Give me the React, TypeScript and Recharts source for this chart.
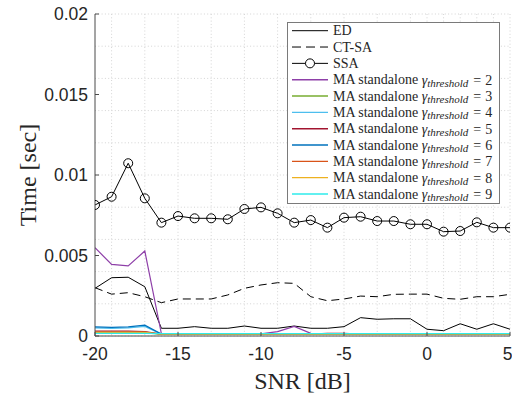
import React from "react";
import { LineChart, Line, XAxis, YAxis, CartesianGrid } from "recharts";

// SNR sweep in dB
const snr = [-20, -19, -18, -17, -16, -15, -14, -13, -12, -11, -10, -9, -8, -7, -6, -5, -4, -3, -2, -1, 0, 1, 2, 3, 4, 5];

// Execution time in seconds
const ed = [0.00296, 0.00362, 0.00365, 0.00306, 0.00048, 0.00048, 0.00058, 0.00048, 0.00048, 0.00062, 0.00048, 0.00048, 0.00062, 0.00048, 0.00048, 0.00058, 0.00114, 0.00104, 0.00107, 0.00107, 0.00042, 0.00033, 0.00076, 0.00042, 0.00076, 0.00042];
const ctsa = [0.003, 0.0026, 0.00269, 0.00244, 0.00207, 0.0023, 0.0023, 0.0023, 0.00255, 0.00296, 0.00317, 0.00331, 0.00327, 0.00244, 0.00219, 0.0023, 0.00248, 0.00244, 0.00259, 0.0026, 0.0026, 0.00234, 0.00228, 0.00244, 0.00244, 0.00259];
const ssa = [0.00814, 0.00865, 0.01073, 0.00855, 0.00704, 0.00745, 0.00731, 0.00731, 0.00725, 0.00789, 0.00799, 0.00762, 0.00704, 0.0072, 0.00673, 0.00735, 0.00741, 0.00714, 0.00714, 0.00694, 0.00694, 0.00648, 0.00652, 0.00706, 0.00673, 0.00673];
const ma2 = [0.00548, 0.00445, 0.00435, 0.00528, 0.00014, 0.00013, 0.00013, 0.00014, 0.00013, 0.00013, 0.00013, 0.00027, 0.0006, 0.00016, 0.00013, 0.00013, 0.00012, 0.00012, 0.00012, 0.00012, 0.00012, 0.00012, 0.00012, 0.00012, 0.00012, 0.00012];
const ma3 = [0.0002, 0.0002, 0.0002, 0.0002, 0.00011, 0.00011, 0.00011, 0.00012, 0.00011, 0.00011, 0.00011, 0.00011, 0.00011, 0.00011, 0.00011, 0.00011, 0.00011, 0.00011, 0.00011, 0.00011, 0.00011, 0.00011, 0.00011, 0.00011, 0.00011, 0.00011];
const ma4 = [0.0005, 0.00047, 0.0005, 0.0006, 0.00012, 0.00012, 0.00012, 0.00012, 0.00012, 0.00012, 0.00012, 0.00012, 0.00012, 0.00012, 0.00012, 0.00012, 0.00012, 0.00012, 0.00012, 0.00012, 0.00012, 0.00012, 0.00012, 0.00012, 0.00012, 0.00012];
const ma5 = [0.0003, 0.0003, 0.0003, 0.00028, 0.00012, 0.00012, 0.00012, 0.00012, 0.00012, 0.00012, 0.00012, 0.00012, 0.00012, 0.00012, 0.00016, 0.00016, 0.00012, 0.00012, 0.00012, 0.00012, 0.00012, 0.00012, 0.00012, 0.00012, 0.00012, 0.00012];
const ma6 = [0.00057, 0.00054, 0.00057, 0.00067, 0.00012, 0.00012, 0.00012, 0.00012, 0.00012, 0.00012, 0.00012, 0.00012, 0.00012, 0.00012, 0.00012, 0.00012, 0.00014, 0.00012, 0.00012, 0.00012, 0.00012, 0.00012, 0.00012, 0.00012, 0.00012, 0.00012];
const ma7 = [0.00025, 0.00025, 0.00025, 0.00024, 0.00011, 0.00011, 0.00011, 0.00011, 0.00011, 0.00011, 0.00011, 0.00011, 0.00011, 0.00011, 0.00011, 0.00011, 0.00011, 0.00011, 0.00011, 0.00011, 0.00011, 0.00011, 0.00011, 0.00011, 0.00011, 0.00011];
const ma8 = [0.00022, 0.00022, 0.00022, 0.00022, 0.00012, 0.00012, 0.00012, 0.00012, 0.00012, 0.00012, 0.00012, 0.00012, 0.00012, 0.00012, 0.00012, 0.00012, 0.00012, 0.00012, 0.00012, 0.00012, 0.00012, 0.00012, 0.00012, 0.00012, 0.00012, 0.00012];
const ma9 = [0.00016, 0.00016, 0.00016, 0.00016, 0.00015, 0.00015, 0.00015, 0.00015, 0.00015, 0.00015, 0.00015, 0.00015, 0.00015, 0.00015, 0.00015, 0.00015, 0.00015, 0.00015, 0.00015, 0.00015, 0.00015, 0.00015, 0.00015, 0.00015, 0.00015, 0.00015];

const xTicks = [-20, -15, -10, -5, 0, 5];
const yTicks = [0, 0.005, 0.01, 0.015, 0.02];
// minor grid: every dB / every millisecond
const yGrid = [0, 0.001, 0.002, 0.003, 0.004, 0.005, 0.006, 0.007, 0.008, 0.009, 0.01, 0.011, 0.012, 0.013, 0.014, 0.015, 0.016, 0.017, 0.018, 0.019, 0.02];

const maSeries = [
  { key: "ma2", gamma: 2, color: "#8E3FA8", values: ma2 },
  { key: "ma3", gamma: 3, color: "#77AC30", values: ma3 },
  { key: "ma4", gamma: 4, color: "#4DBEEE", values: ma4 },
  { key: "ma5", gamma: 5, color: "#A2142F", values: ma5 },
  { key: "ma6", gamma: 6, color: "#0072BD", values: ma6 },
  { key: "ma7", gamma: 7, color: "#D95319", values: ma7 },
  { key: "ma8", gamma: 8, color: "#EDB120", values: ma8 },
  { key: "ma9", gamma: 9, color: "#2EEBEB", values: ma9 },
];

const rows = snr.map((s, i) => {
  const r: Record<string, number> = { snr: s, ed: ed[i], ctsa: ctsa[i], ssa: ssa[i] };
  maSeries.forEach((m) => (r[m.key] = m.values[i]));
  return r;
});

const AXIS = "#4a4a4a";
const TICK_FONT = { fontFamily: "'Liberation Sans', Arial, sans-serif", fontSize: 17.5, fill: "#262626" };
const SERIF = "'Liberation Serif', 'Times New Roman', serif";
const TITLE_STYLE = { fontFamily: SERIF, fontSize: 24, fontWeight: 400 } as const;

// legend drawn as its own box in the upper right of the plot
function LegendBox() {
  const y0 = 8.7;
  const dy = 16.33;
  const fs = 14;
  const txt = { fontFamily: SERIF, fontSize: fs, fill: "#262626" };
  return (
    <svg width={213} height={182} style={{ display: "block" }}>
      <rect x={0.5} y={0.5} width={212} height={181} fill="#fff" stroke="#7a7a7a" />
      <line x1={5} x2={41} y1={y0} y2={y0} stroke="#000" />
      <text x={46} y={y0} dominantBaseline="central" {...txt}>ED</text>

      <line x1={5} x2={41} y1={y0 + dy} y2={y0 + dy} stroke="#000" strokeDasharray="9 5" />
      <text x={46} y={y0 + dy} dominantBaseline="central" {...txt}>CT-SA</text>

      <line x1={5} x2={41} y1={y0 + 2 * dy} y2={y0 + 2 * dy} stroke="#000" />
      <circle cx={23} cy={y0 + 2 * dy} r={4.5} fill="#fff" stroke="#000" />
      <text x={46} y={y0 + 2 * dy} dominantBaseline="central" {...txt}>SSA</text>

      {maSeries.map((m, i) => {
        const y = y0 + (i + 3) * dy;
        return (
          <g key={m.key}>
            <line x1={5} x2={41} y1={y} y2={y} stroke={m.color} strokeWidth={1.4} />
            <text x={46} y={y} dominantBaseline="central" {...txt}>
              MA standalone{" "}
              <tspan fontStyle="italic">γ</tspan>
              <tspan fontStyle="italic" fontSize={11} dy={3}>threshold</tspan>
              <tspan dy={-3} dx={5}>=</tspan>
              <tspan dx={4}>{m.gamma}</tspan>
            </text>
          </g>
        );
      })}
    </svg>
  );
}

export default function App() {
  return (
    <div style={{ position: "absolute", left: 0, top: 0, width: 512, height: 396, background: "#fff", overflow: "hidden" }}>
      <LineChart width={512} height={396} data={rows} margin={{ top: 14, right: 2, bottom: 0, left: 0 }}>
        <CartesianGrid
          stroke="#d4d4d4"
          strokeDasharray="1 2.3"
          horizontalValues={yGrid}
          verticalValues={snr}
        />
        <XAxis
          dataKey="snr"
          type="number"
          domain={[-20, 5]}
          ticks={xTicks}
          height={60}
          stroke={AXIS}
          tickSize={-4}
          tickMargin={16}
          tick={TICK_FONT}
          allowDataOverflow
          label={{
            content: (p: any) => (
              <text
                x={p.viewBox.x + p.viewBox.width / 2}
                y={p.viewBox.y + 45}
                textAnchor="middle"
                dominantBaseline="central"
                style={TITLE_STYLE}
                fill="#262626"
              >
                SNR [dB]
              </text>
            ),
          }}
        />
        <XAxis
          xAxisId="top"
          orientation="top"
          dataKey="snr"
          type="number"
          domain={[-20, 5]}
          ticks={xTicks}
          height={0}
          stroke={AXIS}
          tickSize={-4}
          tick={false}
        />
        <YAxis
          type="number"
          domain={[0, 0.02]}
          ticks={yTicks}
          width={95}
          stroke={AXIS}
          tickSize={-4}
          tickMargin={11}
          tick={TICK_FONT}
          tickFormatter={(v: number) => String(v)}
          label={{
            content: (p: any) => {
              const cx = 28;
              const cy = p.viewBox.y + p.viewBox.height / 2;
              return (
                <text
                  x={cx}
                  y={cy}
                  transform={`rotate(-90 ${cx} ${cy})`}
                  textAnchor="middle"
                  dominantBaseline="central"
                  style={TITLE_STYLE}
                  fill="#262626"
                >
                  Time [sec]
                </text>
              );
            },
          }}
        />
        <YAxis
          yAxisId="right"
          orientation="right"
          type="number"
          domain={[0, 0.02]}
          ticks={yTicks}
          width={0}
          stroke={AXIS}
          tickSize={-4}
          tick={false}
        />
        <Line dataKey="ed" stroke="#000" strokeWidth={1} dot={false} isAnimationActive={false} />
        <Line dataKey="ctsa" stroke="#000" strokeWidth={1} strokeDasharray="8 5" dot={false} isAnimationActive={false} />
        <Line
          dataKey="ssa"
          stroke="#000"
          strokeWidth={1}
          dot={{ r: 4.5, fill: "none", stroke: "#000", strokeWidth: 1 }}
          isAnimationActive={false}
        />
        {maSeries.map((m) => (
          <Line key={m.key} dataKey={m.key} stroke={m.color} strokeWidth={1.2} dot={false} isAnimationActive={false} />
        ))}
      </LineChart>
      <div style={{ position: "absolute", left: 287, top: 22 }}>
        <LegendBox />
      </div>
    </div>
  );
}
